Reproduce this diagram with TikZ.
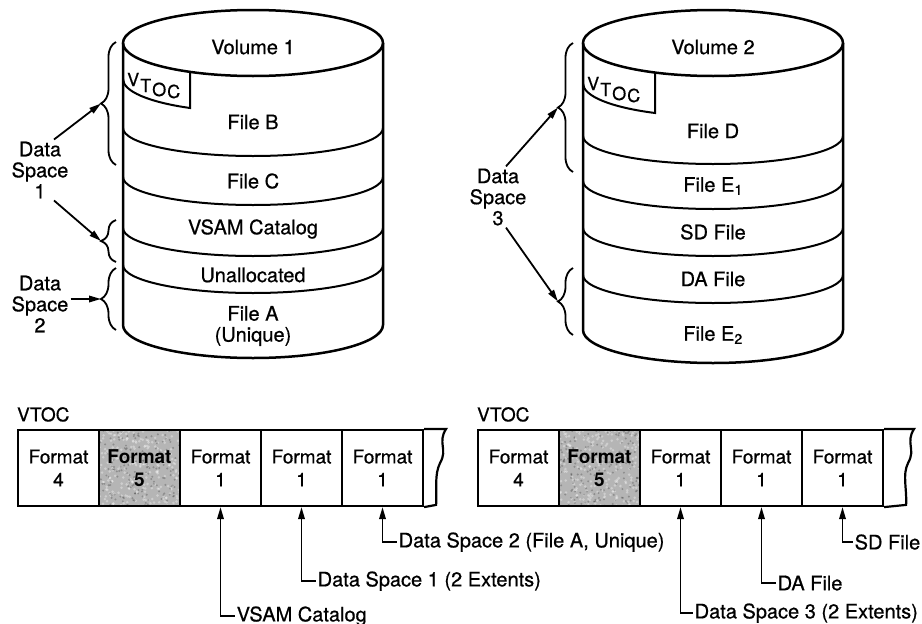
\documentclass[tikz,border=0pt]{standalone}
\usepackage{fontspec}
\setmainfont{TeX Gyre Heros}[UprightFeatures={FakeBold=0.6}]
\usetikzlibrary{arrows.meta, calc, chains, positioning, decorations.pathreplacing}

\tikzset{
  wall/.style  = {line width=2.5pt},
  ring/.style  = {line width=2pt},
  lbl/.style   = {font=\fontsize{20}{21}\selectfont, inner sep=2pt},
  tab/.style   = {font=\fontsize{18}{18}\selectfont, inner sep=0pt, anchor=base west},
  cell/.style  = {draw, line width=2.2pt, minimum width=81pt, minimum height=76pt,
                  inner sep=0pt, align=center, font=\fontsize{19}{23}\selectfont},
  shaded/.style = {fill=gray!58, font=\fontsize{19}{23}\selectfont\bfseries, path picture={
      \foreach \k in {1,...,230}
        \fill[white, opacity=0.35] ($(path picture bounding box.north west)+(rnd*81,rnd*76)$) circle (1.4pt);
      \foreach \k in {1,...,170}
        \fill[black, opacity=0.22] ($(path picture bounding box.north west)+(rnd*81,rnd*76)$) circle (1.1pt);
    }},
  ptr/.style   = {line width=1.8pt, -{Triangle[length=12pt,width=6.5pt]}},
  grp/.style   = {line width=1.8pt, decorate, decoration={brace, amplitude=15pt}},
}

\begin{document}
\begin{tikzpicture}[x=1pt, y=-1pt]
   \pgfmathsetseed{7}
   \useasboundingbox[fill=white] (0,0) rectangle (922,624);

   % Volume 1
   \draw[wall] (253,43) ellipse[x radius=130, y radius=33];
   \draw[wall] (123,43) -- (123,325) arc[start angle=180, end angle=0, x radius=130, y radius=33] -- (383,43);
   \foreach \y in {128,177,228,265}
      \draw[ring] (123,\y) arc[start angle=180, end angle=0, x radius=130, y radius=28];
   \draw[ring] (190,72) -- (190,108) arc[start angle=119, end angle=180, x radius=130, y radius=33];
   \node[tab] (vtoc1) at (127,86) {V\kern1pt\raisebox{-6pt}{T}\kern1pt\raisebox{-10pt}{O}\kern1pt\raisebox{-12pt}{C}};

   \node[lbl] (vol1)  at (253,47)  {Volume 1};
   \node[lbl] (fileB) at (253,122) {File B};
   \node[lbl] (fileC) at (253,181) {File C};
   \node[lbl] (vsamc) at (253,229) {VSAM Catalog};
   \node[lbl] (unall) at (253,275) {Unallocated};
   \node[lbl, align=center] (fileA) at (253,326) {File A\\(Unique)};

   % Volume 2
   \draw[wall] (713,43) ellipse[x radius=130, y radius=33];
   \draw[wall] (583,43) -- (583,330) arc[start angle=180, end angle=0, x radius=130, y radius=33] -- (843,43);
   \foreach \y in {136,181,228,275}
      \draw[ring] (583,\y) arc[start angle=180, end angle=0, x radius=130, y radius=28];
   \draw[ring] (655,72.5) -- (655,113) arc[start angle=116.5, end angle=180, x radius=130, y radius=33];
   \node[tab] (vtoc2) at (587,90) {V\kern1pt\raisebox{-6pt}{T}\kern1pt\raisebox{-10pt}{O}\kern1pt\raisebox{-12pt}{C}};

   \node[lbl] (vol2)  at (713,47)  {Volume 2};
   \node[lbl] (fileD) at (713,131) {File D};
   \node[lbl] (fileE) at (713,186) {File E\textsubscript{1}};
   \node[lbl] (sdf)   at (713,232) {SD File};
   \node[lbl] (daf)   at (713,279) {DA File};
   \node[lbl] (fileF) at (713,335) {File E\textsubscript{2}};

   % data spaces
   \draw[grp] (116,165) -- (116,42);
   \draw[grp] (116,262) -- (116,220);
   \draw[grp] (116,330) -- (116,268);
   \draw[grp] (573,172) -- (573,43);
   \draw[grp] (573,335) -- (573,268);
   \coordinate (t1) at (101,103.5);
   \coordinate (t2) at (101,241);
   \coordinate (t3) at (101,299);
   \coordinate (t4) at (558,107.5);
   \coordinate (t5) at (558,301.5);

   \node[lbl, align=center] (ds1) at (40,170) {Data\\Space\\1};
   \node[lbl, align=center] (ds2) at (40,304) {Data\\Space\\2};
   \node[lbl, align=center] (ds3) at (498,197) {Data\\Space\\3};

   \draw[ptr] ([xshift=14pt]ds1.north) -- (t1);
   \draw[ptr] ([xshift=14pt]ds1.south) -- (t2);
   \draw[ptr] (ds2.east |- t3) -- (t3);
   \draw[ptr] ([xshift=8pt]ds3.north) -- (t4);
   \draw[ptr] ([xshift=8pt]ds3.south) -- (t5);

   % VTOC of volume 1
   \begin{scope}[start chain=going right, node distance=-2.2pt]
      \node[cell, on chain] (l4) at (58.5,468) {Format\\4};
      \node[cell, shaded, on chain] (l5) {Format\\5};
      \node[cell, on chain] (l1a) {Format\\1};
      \node[cell, on chain] (l1b) {Format\\1};
      \node[cell, on chain] (l1c) {Format\\1};
   \end{scope}
   \draw[line width=2.2pt] (l1c.north east) -- ++(22,0)
      .. controls +(-9,14) and +(8,-14) .. ++(-6,34)
      .. controls +(-6,12) and +(1,-16) .. ++(-4,42) -- (l1c.south east);
   \node[lbl, tab, anchor=south west, font=\fontsize{19}{19}\selectfont] (vt1) at ([yshift=7pt]l4.north west) {VTOC};

   \node[lbl, anchor=west] (n1) at ($(l1a.south)+(14,109)$) {VSAM Catalog};
   \node[lbl, anchor=west] (n2) at ($(l1b.south)+(14,74)$)  {Data Space 1 (2 Extents)};
   \node[lbl, anchor=west] (n3) at ($(l1c.south)+(14,35)$)  {Data Space 2 (File A, Unique)};
   \draw[ptr] (n1.west) -| (l1a.south);
   \draw[ptr] (n2.west) -| (l1b.south);
   \draw[ptr] (n3.west) -| (l1c.south);

   % VTOC of volume 2
   \begin{scope}[start chain=going right, node distance=-2.2pt]
      \node[cell, on chain] (r4) at (518.5,468) {Format\\4};
      \node[cell, shaded, on chain] (r5) {Format\\5};
      \node[cell, on chain] (r1a) {Format\\1};
      \node[cell, on chain] (r1b) {Format\\1};
      \node[cell, on chain] (r1c) {Format\\1};
   \end{scope}
   \draw[line width=2.2pt] (r1c.north east) -- ++(30,0)
      .. controls +(-9,14) and +(8,-14) .. ++(-6,34)
      .. controls +(-6,12) and +(1,-16) .. ++(-2,42) -- (r1c.south east);
   \node[lbl, tab, anchor=south west, font=\fontsize{19}{19}\selectfont] (vt2) at ([yshift=7pt]r4.north west) {VTOC};

   \node[lbl, anchor=west] (m1) at ($(r1a.south)+(12,106)$) {Data Space 3 (2 Extents)};
   \node[lbl, anchor=west] (m2) at ($(r1b.south)+(14,76)$)  {DA File};
   \node[lbl, anchor=west] (m3) at ($(r1c.south)+(10,35)$)  {SD File};
   \draw[ptr] (m1.west) -| (r1a.south);
   \draw[ptr] (m2.west) -| (r1b.south);
   \draw[ptr] (m3.west) -| (r1c.south);
\end{tikzpicture}
\end{document}
